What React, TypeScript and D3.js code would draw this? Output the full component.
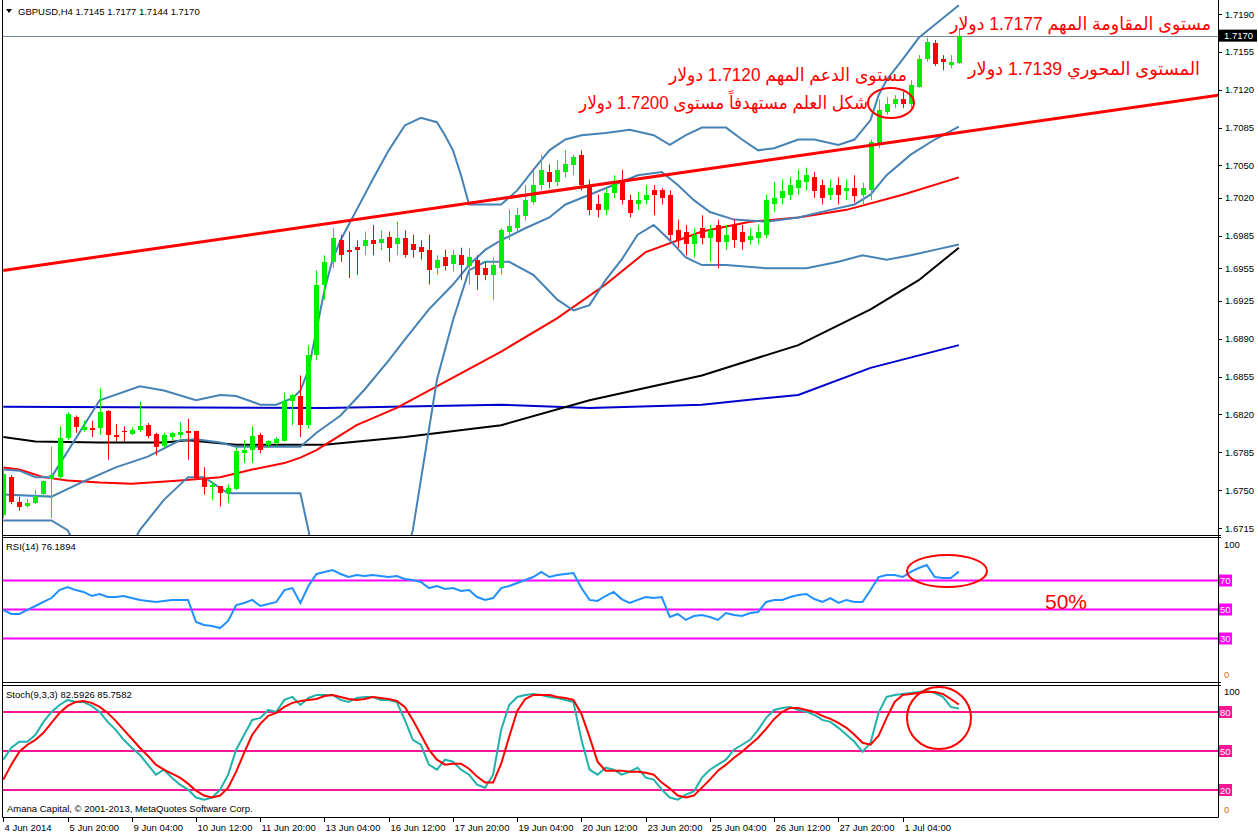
import React from "react";
import * as d3 from "d3";

const xTickLabels = ["4 Jun 2014","5 Jun 20:00","9 Jun 04:00","10 Jun 12:00","11 Jun 20:00","13 Jun 04:00","16 Jun 12:00","17 Jun 20:00","19 Jun 04:00","20 Jun 12:00","23 Jun 20:00","25 Jun 04:00","26 Jun 12:00","27 Jun 20:00","1 Jul 04:00"];
const priceTicks = [1.7190,1.7155,1.7120,1.7085,1.7050,1.7020,1.6985,1.6955,1.6925,1.6890,1.6855,1.6820,1.6785,1.6750,1.6715];
const rsiLevels = [70,50,30];
const stochLevels = [80,50,20];

const opens = [1.6727,1.6762,1.6739,1.6735,1.6738,1.6746,1.6760,1.6762,1.6798,1.6818,
1.6806,1.6807,1.6807,1.6823,1.6801,1.6805,1.6802,1.6806,1.6810,1.6802,
1.6791,1.6799,1.6801,1.6805,1.6805,1.6761,1.6753,1.6754,1.6747,1.6751,
1.6784,1.6787,1.6801,1.6792,1.6794,1.6795,1.6832,1.6837,1.6810,1.6875,
1.6940,1.6961,1.6981,1.6972,1.6975,1.6976,1.6981,1.6978,1.6984,1.6977,
1.6983,1.6977,1.6975,1.6972,1.6955,1.6965,1.6959,1.6967,1.6957,1.6963,
1.6955,1.6949,1.6955,1.6989,1.6992,1.7003,1.7016,1.7032,1.7044,1.7035,
1.7044,1.7050,1.7060,1.7032,1.7014,1.7009,1.7025,1.7037,1.7018,1.7014,
1.7018,1.7027,1.7027,1.7023,1.6990,1.6989,1.6977,1.6992,1.6983,1.6995,
1.6979,1.6995,1.6989,1.6981,1.6983,1.6986,1.7014,1.7020,1.7023,1.7029,
1.7035,1.7039,1.7032,1.7023,1.7032,1.7026,1.7029,1.7023,1.7027,1.7069,
1.7099,1.7107,1.7111,1.7107,1.7123,1.7148,1.7163,1.7148,1.7143,1.7145];
const highs = [1.6769,1.6764,1.6744,1.6742,1.6750,1.6759,1.6790,1.6809,1.6822,1.6819,
1.6814,1.6814,1.6844,1.6824,1.6811,1.6809,1.6808,1.6832,1.6812,1.6803,
1.6803,1.6804,1.6813,1.6816,1.6805,1.6771,1.6758,1.6754,1.6755,1.6790,
1.6796,1.6809,1.6803,1.6796,1.6799,1.6840,1.6839,1.6856,1.6884,1.6953,
1.6967,1.6992,1.6986,1.6989,1.6981,1.6989,1.6995,1.6990,1.6989,1.6998,
1.6990,1.6986,1.6981,1.6986,1.6967,1.6972,1.6972,1.6974,1.6974,1.6967,
1.6961,1.6965,1.6992,1.7009,1.7011,1.7032,1.7046,1.7060,1.7051,1.7055,
1.7064,1.7060,1.7064,1.7037,1.7023,1.7029,1.7041,1.7046,1.7023,1.7026,
1.7032,1.7032,1.7029,1.7027,1.7000,1.6995,1.6992,1.7004,1.6995,1.7000,
1.6995,1.7000,1.6995,1.6992,1.6995,1.7023,1.7035,1.7037,1.7039,1.7046,
1.7048,1.7044,1.7037,1.7037,1.7039,1.7037,1.7041,1.7034,1.7074,1.7111,
1.7113,1.7115,1.7118,1.7129,1.7152,1.7168,1.7166,1.7152,1.7152,1.7177];
const lows = [1.6724,1.6737,1.6731,1.6734,1.6737,1.6744,1.6724,1.6760,1.6796,1.6803,
1.6804,1.6799,1.6801,1.6778,1.6795,1.6795,1.6801,1.6804,1.6798,1.6782,
1.6789,1.6796,1.6798,1.6778,1.6760,1.6746,1.6741,1.6735,1.6738,1.6750,
1.6775,1.6775,1.6784,1.6789,1.6792,1.6795,1.6810,1.6799,1.6807,1.6870,
1.6926,1.6955,1.6961,1.6946,1.6949,1.6967,1.6967,1.6972,1.6961,1.6967,
1.6965,1.6965,1.6963,1.6940,1.6949,1.6953,1.6952,1.6944,1.6940,1.6935,
1.6944,1.6926,1.6949,1.6981,1.6989,1.6999,1.7014,1.7027,1.7029,1.7031,
1.7039,1.7041,1.7027,1.7004,1.7002,1.7004,1.7020,1.7014,1.7002,1.7009,
1.7014,1.7004,1.7014,1.6981,1.6974,1.6967,1.6965,1.6977,1.6961,1.6955,
1.6972,1.6974,1.6972,1.6977,1.6977,1.6983,1.7007,1.7014,1.7018,1.7023,
1.7027,1.7020,1.7014,1.7018,1.7014,1.7018,1.7016,1.7014,1.7018,1.7066,
1.7097,1.7103,1.7103,1.7103,1.7122,1.7146,1.7142,1.7138,1.7140,1.7144];
const closes = [1.6765,1.6739,1.6734,1.6738,1.6745,1.6758,1.6764,1.6798,1.6820,1.6808,
1.6808,1.6806,1.6822,1.6801,1.6799,1.6804,1.6806,1.6809,1.6800,1.6790,
1.6801,1.6803,1.6804,1.6803,1.6761,1.6753,1.6755,1.6747,1.6752,1.6786,
1.6787,1.6800,1.6787,1.6795,1.6797,1.6832,1.6838,1.6810,1.6875,1.6940,
1.6961,1.6983,1.6967,1.6970,1.6972,1.6981,1.6977,1.6982,1.6974,1.6983,
1.6967,1.6972,1.6970,1.6953,1.6963,1.6957,1.6967,1.6958,1.6965,1.6949,
1.6949,1.6958,1.6990,1.6994,1.7004,1.7018,1.7032,1.7046,1.7035,1.7046,
1.7051,1.7058,1.7032,1.7009,1.7009,1.7025,1.7035,1.7018,1.7006,1.7018,
1.7023,1.7023,1.7020,1.6986,1.6981,1.6977,1.6986,1.6983,1.6990,1.6979,
1.6986,1.6981,1.6979,1.6985,1.6989,1.7018,1.7020,1.7026,1.7032,1.7037,
1.7041,1.7026,1.7020,1.7029,1.7023,1.7029,1.7022,1.7029,1.7072,1.7101,
1.7107,1.7111,1.7107,1.7124,1.7148,1.7164,1.7144,1.7146,1.7146,1.7170];

// [bar, price] samples
const maRed: [number, number][] = [[0,1.6771],[2,1.6769],[5,1.6762],[8,1.6759],[12,1.6757],[16,1.6756],[22,1.6759],[27,1.6762],[31,1.6769],[35,1.6775],[37,1.6780],[39,1.6787],[44,1.6810],[49,1.6826],[56,1.6854],[62,1.6878],[69,1.6909],[75,1.6940],[80,1.6970],[87,1.6989],[93,1.6998],[99,1.7002],[105,1.7009],[112,1.7023],[119,1.7039]];
const maBlack: [number, number][] = [[0,1.6799],[4,1.6795],[12,1.6794],[20,1.6794],[23,1.6796],[29,1.6792],[40,1.6792],[50,1.6799],[62,1.6810],[73,1.6833],[87,1.6856],[99,1.6884],[108,1.6917],[114,1.6944],[119,1.6974]];
const maBlue: [number, number][] = [[0,1.6827],[40,1.6826],[62,1.6829],[73,1.6826],[87,1.6829],[99,1.6838],[108,1.6863],[119,1.6884]];
const bbUpper: [number, number][] = [[0,1.6769],[2,1.6768],[4,1.6762],[6,1.6762],[12,1.6833],[17,1.6846],[20,1.6842],[24,1.6833],[27,1.6838],[29,1.6837],[32,1.6829],[34,1.6829],[36,1.6835],[37,1.6842],[38,1.6861],[39,1.6898],[40,1.6935],[41,1.6963],[42,1.6981],[43,1.6995],[44,1.7009],[46,1.7037],[48,1.7064],[50,1.7087],[52,1.7094],[54,1.7090],[55,1.7078],[56,1.7064],[57,1.7041],[58,1.7014],[60,1.7014],[62,1.7014],[64,1.7027],[66,1.7046],[68,1.7064],[70,1.7074],[72,1.7078],[75,1.7080],[78,1.7083],[81,1.7078],[83,1.7069],[85,1.7078],[87,1.7085],[90,1.7085],[92,1.7074],[94,1.7064],[96,1.7066],[99,1.7074],[101,1.7074],[104,1.7069],[106,1.7074],[107,1.7083],[108,1.7092],[109,1.7115],[110,1.7129],[112,1.7148],[114,1.7168],[116,1.7180],[119,1.7198]];
const bbMiddle: [number, number][] = [[0,1.6746],[6,1.6744],[10,1.6758],[14,1.6771],[18,1.6781],[22,1.6796],[24,1.6797],[27,1.6794],[29,1.6790],[37,1.6790],[39,1.6803],[42,1.6819],[45,1.6843],[48,1.6870],[50,1.6889],[53,1.6917],[56,1.6940],[58,1.6958],[60,1.6972],[62,1.6981],[65,1.6992],[68,1.7002],[70,1.7014],[73,1.7023],[76,1.7032],[79,1.7041],[82,1.7044],[84,1.7032],[86,1.7018],[88,1.7007],[91,1.7000],[95,1.6998],[99,1.7002],[103,1.7009],[106,1.7014],[108,1.7023],[110,1.7041],[113,1.7060],[116,1.7074],[119,1.7086]];
const bbLower: [number, number][] = [[0,1.6722],[6,1.6722],[8,1.6713],[10,1.6685],[15,1.6685],[17,1.6713],[20,1.6741],[23,1.6762],[25,1.6762],[28,1.6747],[37,1.6747],[38,1.6713],[40,1.6630],[48,1.6630],[51,1.6713],[54,1.6852],[56,1.6907],[58,1.6953],[60,1.6961],[63,1.6961],[66,1.6949],[69,1.6926],[71,1.6916],[73,1.6921],[75,1.6944],[77,1.6963],[79,1.6986],[81,1.6995],[83,1.6981],[85,1.6965],[87,1.6958],[90,1.6958],[95,1.6955],[100,1.6955],[104,1.6961],[107,1.6967],[110,1.6963],[113,1.6967],[116,1.6972],[119,1.6977]];
const trendLine: [number, number][] = [[0,1.6953],[151.3,1.7115]];

const rsi = [49.7,46.9,46.9,49.7,52.4,55.2,57.9,63.4,65.5,63.4,
62.1,59.3,60.7,58.6,58.6,59.3,57.9,56.6,55.9,55.2,
55.9,56.6,56.6,56.6,41.4,39.3,38.6,37.2,42.1,53.1,
54.5,56.6,52.4,53.8,55.2,63.4,64.8,54.5,66.2,74.5,
75.9,77.2,74.5,72.4,73.8,73.1,73.8,73.1,72.4,73.1,
71.0,70.3,69.0,64.8,66.2,64.1,64.8,62.8,63.4,58.6,
56.6,57.9,64.8,66.2,68.3,70.3,72.4,75.9,72.4,73.8,
74.5,75.2,64.8,56.6,55.9,59.3,62.1,57.2,54.5,56.6,
58.6,57.9,58.6,44.8,46.9,42.8,45.5,46.2,44.8,42.8,
47.6,46.2,45.5,47.6,48.3,55.2,56.6,56.6,58.6,60.0,
60.7,57.2,55.2,57.9,54.5,56.6,55.2,55.2,63.4,72.4,
73.8,73.8,72.4,75.9,78.6,80.7,72.4,71.7,71.7,76.19];

const stochK = [43.3,52.5,57.1,57.1,62.5,72.4,80.1,85.4,89.3,87.7,
87.7,84.7,80.1,72.4,66.3,58.6,52.5,47.1,39.5,31.8,
35.6,29.5,24.1,20.3,14.2,12.6,14.2,20.3,31.8,51.0,
62.5,73.9,75.5,81.6,80.1,89.3,91.6,85.4,90.8,93.1,
93.1,93.1,89.3,87.7,90.8,91.6,91.6,89.3,89.3,87.7,
73.9,58.6,54.8,39.5,35.6,43.3,41.8,35.6,31.8,24.1,
21.8,31.8,66.3,85.4,91.6,93.1,93.9,93.1,91.6,90.8,
89.3,87.7,58.6,35.6,31.8,37.2,35.6,31.8,34.1,37.2,
29.5,28.0,20.3,14.2,12.6,16.5,18.8,29.5,35.6,39.5,
43.3,51.0,54.8,58.6,66.3,75.5,81.6,83.1,83.9,81.6,
80.1,77.8,73.9,72.4,67.8,62.5,57.1,49.4,56.3,79.3,
91.6,93.1,93.9,94.6,95.4,96.2,94.6,91.6,83.9,82.59];
const stochD = [28.0,39.5,49.4,54.8,58.6,64.0,71.6,79.3,84.7,87.7,
88.5,87.0,83.9,79.3,73.2,66.3,59.4,52.5,46.4,39.5,
35.6,32.6,29.5,24.9,19.5,15.7,14.2,15.7,21.8,34.1,
48.7,62.5,70.9,77.0,79.3,83.9,87.0,88.5,89.3,90.0,
92.3,93.1,91.6,90.0,89.3,90.0,91.6,90.8,90.0,88.5,
83.9,73.9,62.5,51.0,43.3,39.5,40.2,40.2,36.4,30.3,
25.7,25.7,40.2,60.9,80.8,90.0,93.1,93.1,93.1,91.6,
90.8,89.3,78.5,60.9,41.8,34.9,34.9,34.9,34.1,34.1,
33.3,31.8,25.7,21.1,15.7,14.2,15.7,21.8,28.0,34.9,
39.5,44.8,49.4,54.8,60.2,67.0,74.7,80.1,83.1,83.1,
81.6,80.1,77.0,74.7,71.6,67.8,62.5,56.3,54.8,61.7,
75.5,87.7,93.1,93.9,94.6,95.4,95.4,93.9,90.0,85.76];

const FONT = "'Liberation Sans', Arial, sans-serif";
const AR_FONT = "'Liberation Sans', 'DejaVu Sans', Arial, sans-serif";
const FS = 9.5;

export default function App() {
  const L = 3, R = 1218;
  const mainTop = 1, mainBot = 535;
  const rsiTop = 538, rsiBot = 682;
  const stTop = 686, stBot = 817;

  const x = d3.scaleLinear().domain([0, 119]).range([3.3, 3.3 + 119 * 8.03]);
  const yP = d3.scaleLinear().domain([1.6715, 1.7190]).range([528, 14]);
  const yR = d3.scaleLinear().domain([0, 100]).range([682, 537]);
  const yS = d3.scaleLinear().domain([0, 100]).range([816, 686]);

  const pLine = d3.line<[number, number]>().x(d => x(d[0])).y(d => yP(d[1]));
  const rLine = d3.line<number>().x((_, i) => x(i)).y(d => yR(d));
  const sLine = d3.line<number>().x((_, i) => x(i)).y(d => yS(d));

  const candles = opens.map((o, i) => {
    const c = closes[i];
    const xi = Math.round(x(i));
    const up = c >= o;
    const col = up ? "#00EE00" : "#FF0000";
    const yT = Math.round(yP(Math.max(o, c)));
    const yB = Math.round(yP(Math.min(o, c)));
    return (
      <g key={i}>
        <line x1={xi + 0.5} x2={xi + 0.5} y1={yP(highs[i])} y2={yP(lows[i])} stroke={col} strokeWidth={1} />
        <rect x={xi - 2} y={yT} width={5} height={Math.max(1, yB - yT)} fill={col} />
      </g>
    );
  });

  const tickEvery = 8;

  return (
    <svg width={1258} height={835} style={{ position: "absolute", left: 0, top: 0, background: "#fff" }} fontFamily={FONT}>
      <defs>
        <clipPath id="cMain"><rect x={L} y={mainTop} width={R - L} height={mainBot - mainTop} /></clipPath>
        <clipPath id="cRsi"><rect x={L} y={rsiTop} width={R - L} height={rsiBot - rsiTop} /></clipPath>
        <clipPath id="cSt"><rect x={L} y={stTop} width={R - L} height={stBot - stTop} /></clipPath>
      </defs>
      <rect x={0} y={0} width={1258} height={835} fill="#fff" />

      {/* main panel */}
      <g clipPath="url(#cMain)">
        <line x1={L} x2={R} y1={Math.round(yP(1.7170)) + 0.5} y2={Math.round(yP(1.7170)) + 0.5} stroke="#7a8a9a" strokeWidth={1} />
        <path d={pLine(maBlue) || ""} fill="none" stroke="#0000CD" strokeWidth={2} />
        <path d={pLine(maBlack) || ""} fill="none" stroke="#000" strokeWidth={2} />
        <path d={pLine(maRed) || ""} fill="none" stroke="#FF0000" strokeWidth={2} />
        <path d={pLine(bbUpper) || ""} fill="none" stroke="#4682B4" strokeWidth={2} />
        <path d={pLine(bbMiddle) || ""} fill="none" stroke="#4682B4" strokeWidth={2} />
        <path d={pLine(bbLower) || ""} fill="none" stroke="#4682B4" strokeWidth={2} />
        {candles}
        <path d={pLine(trendLine) || ""} fill="none" stroke="#FF0000" strokeWidth={3} />
        <ellipse cx={891} cy={103} rx={23} ry={15} fill="none" stroke="#FF0000" strokeWidth={2} />
      </g>
      <path d="M6,9 L12,9 L9,13 Z" fill="#000" />
      <text x={18} y={15} fontSize={FS} fill="#000">GBPUSD,H4  1.7145 1.7177 1.7144 1.7170</text>

      {/* Arabic annotations */}
      <g fontFamily={AR_FONT} fill="#FF0000" fontSize={18}>
        <text x={950} y={30} textLength={261} lengthAdjust="spacingAndGlyphs">مستوى المقاومة المهم 1.7177 دولار</text>
        <text x={968} y={75} textLength={232} lengthAdjust="spacingAndGlyphs">المستوى المحوري 1.7139 دولار</text>
        <text x={669} y={81} textLength={238} lengthAdjust="spacingAndGlyphs">مستوى الدعم المهم 1.7120 دولار</text>
        <text x={579} y={109} textLength={289} lengthAdjust="spacingAndGlyphs">شكل العلم مستهدفاً مستوى 1.7200 دولار</text>
      </g>

      {/* RSI panel */}
      <g clipPath="url(#cRsi)">
        {rsiLevels.map(l => (
          <line key={l} x1={L} x2={R} y1={yR(l)} y2={yR(l)} stroke="#FF00FF" strokeWidth={2} />
        ))}
        <path d={rLine(rsi) || ""} fill="none" stroke="#1E90FF" strokeWidth={2} />
        <ellipse cx={947} cy={571} rx={40} ry={16} fill="none" stroke="#FF0000" strokeWidth={2} />
      </g>
      <text x={6} y={550} fontSize={FS}>RSI(14) 76.1894</text>
      <text x={1066} y={609} fontSize={21} fill="#FF0000" textAnchor="middle">50%</text>

      {/* Stoch panel */}
      <g clipPath="url(#cSt)">
        {stochLevels.map(l => (
          <line key={l} x1={L} x2={R} y1={yS(l)} y2={yS(l)} stroke="#FF1493" strokeWidth={2} />
        ))}
        <path d={sLine(stochK) || ""} fill="none" stroke="#20B2AA" strokeWidth={2} />
        <path d={sLine(stochD) || ""} fill="none" stroke="#FF0000" strokeWidth={2} />
        <ellipse cx={939} cy={718} rx={32} ry={31} fill="none" stroke="#FF0000" strokeWidth={2} />
      </g>
      <text x={6} y={698} fontSize={FS}>Stoch(9,3,3) 82.5926 85.7582</text>
      <text x={7} y={812} fontSize={FS}>Amana Capital, © 2001-2013, MetaQuotes Software Corp.</text>

      {/* frames */}
      <g stroke="#000" strokeWidth={1} fill="none">
        <line x1={L - 0.5} x2={L - 0.5} y1={0} y2={stBot + 0.5} />
        <line x1={R + 0.5} x2={R + 0.5} y1={0} y2={stBot + 0.5} />
        <line x1={L - 0.5} x2={R + 3} y1={mainBot + 0.5} y2={mainBot + 0.5} />
        <line x1={L - 0.5} x2={R + 3} y1={rsiTop - 0.5} y2={rsiTop - 0.5} />
        <line x1={L - 0.5} x2={R + 3} y1={rsiBot + 0.5} y2={rsiBot + 0.5} />
        <line x1={L - 0.5} x2={R + 3} y1={stTop - 0.5} y2={stTop - 0.5} />
        <line x1={L - 0.5} x2={R + 0.5} y1={stBot + 0.5} y2={stBot + 0.5} />
      </g>

      {/* price axis */}
      {priceTicks.map(t => (
        <g key={t}>
          <line x1={R} x2={R + 4} y1={Math.round(yP(t)) + 0.5} y2={Math.round(yP(t)) + 0.5} stroke="#000" />
          <text x={1225} y={yP(t) + 3.5} fontSize={FS}>{t.toFixed(4)}</text>
        </g>
      ))}
      <rect x={1219} y={yP(1.7170) - 6} width={38} height={12} fill="#000" />
      <text x={1224} y={yP(1.7170) + 3.5} fontSize={FS} fill="#fff">1.7170</text>

      {/* RSI axis */}
      <text x={1224} y={548} fontSize={FS}>100</text>
      <text x={1224} y={678} fontSize={FS} fill="#D2691E">0</text>
      {rsiLevels.map(l => (
        <g key={l}>
          <rect x={1219} y={yR(l) - 6} width={13} height={12} fill="#FF00FF" />
          <text x={1220} y={yR(l) + 3.5} fontSize={FS} fill="#fff">{l}</text>
        </g>
      ))}

      {/* Stoch axis */}
      <text x={1224} y={695} fontSize={FS}>100</text>
      <text x={1224} y={813} fontSize={FS} fill="#D2691E">0</text>
      {stochLevels.map(l => (
        <g key={l}>
          <rect x={1219} y={yS(l) - 6} width={13} height={12} fill="#FF1493" />
          <text x={1220} y={yS(l) + 3.5} fontSize={FS} fill="#fff">{l}</text>
        </g>
      ))}

      {/* time axis */}
      {xTickLabels.map((lab, k) => {
        const xi = Math.round(x(k * tickEvery)) + 0.5;
        return (
          <g key={lab}>
            <line x1={xi} x2={xi} y1={stBot} y2={stBot + 5} stroke="#000" />
            <text x={xi + 1} y={831} fontSize={FS}>{lab}</text>
          </g>
        );
      })}
    </svg>
  );
}
